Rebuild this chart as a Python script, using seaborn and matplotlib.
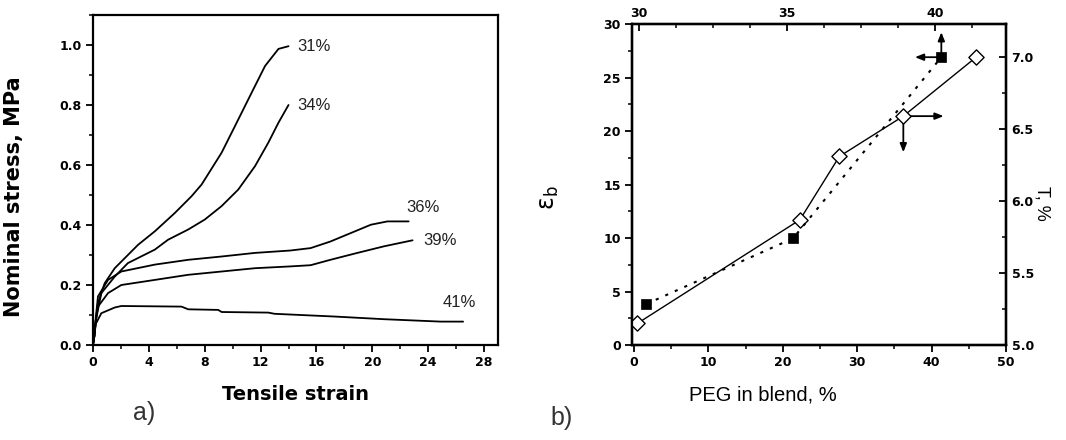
import matplotlib
matplotlib.use("Agg")
import matplotlib.pyplot as plt
import seaborn as sns
from matplotlib.ticker import MultipleLocator
from matplotlib.transforms import offset_copy

# ---------------- data: panel a) ----------------
strain_31 = [0, 0.1, 0.2, 0.36, 0.84, 1.56, 3.23, 4.43, 5.86, 7.06, 7.78, 9.21, 10.17, 11.37, 12.32, 13.28, 14.0]
stress_31 = [0, 0.03, 0.08, 0.14, 0.206, 0.256, 0.334, 0.379, 0.44, 0.496, 0.535, 0.641, 0.73, 0.842, 0.93, 0.987, 0.996]

strain_34 = [0, 0.1, 0.2, 0.6, 1.56, 2.5, 4.43, 5.38, 6.82, 8.0, 9.21, 10.4, 11.6, 12.56, 13.28, 14.0]
stress_34 = [0, 0.03, 0.08, 0.173, 0.228, 0.273, 0.318, 0.351, 0.385, 0.418, 0.463, 0.518, 0.596, 0.675, 0.741, 0.80]

strain_36 = [0, 0.1, 0.2, 0.36, 1.08, 2.03, 4.43, 6.82, 9.21, 11.6, 14.14, 15.58, 17.0, 18.45, 19.9, 21.08, 22.6]
stress_36 = [0, 0.03, 0.09, 0.162, 0.217, 0.245, 0.268, 0.284, 0.295, 0.307, 0.315, 0.323, 0.345, 0.373, 0.401, 0.412, 0.412]

strain_39 = [0, 0.1, 0.2, 0.36, 1.08, 2.03, 4.43, 6.82, 9.21, 11.6, 14.14, 15.58, 17.0, 18.93, 20.84, 22.88]
stress_39 = [0, 0.03, 0.08, 0.128, 0.173, 0.20, 0.217, 0.234, 0.245, 0.256, 0.262, 0.266, 0.284, 0.307, 0.329, 0.349]

strain_41 = [0, 0.1, 0.2, 0.6, 1.56, 2.03, 6.34, 6.82, 8.97, 9.21, 12.56, 13.0, 17.25, 20.84, 24.9, 26.5]
stress_41 = [0, 0.03, 0.07, 0.106, 0.125, 0.13, 0.128, 0.119, 0.117, 0.11, 0.108, 0.104, 0.095, 0.086, 0.078, 0.078]

curve_labels = ["31%", "34%", "36%", "39%", "41%"]
stress_ticks = [0.0, 0.2, 0.4, 0.6, 0.8, 1.0]

# ---------------- data: panel b) ----------------
peg_bottom = [0.45, 22.3, 27.6, 36.2, 46.0]      # open diamonds, bottom x
right_vals = [5.15, 5.87, 6.31, 6.59, 7.0]       # open diamonds, right y
peg_top = [30.26, 35.21, 40.21]                  # filled squares, top x
eps_b = [3.83, 9.97, 26.9]                       # filled squares, left y
right_ticks = [5.0, 5.5, 6.0, 6.5, 7.0]

sns.set_style("white")
plt.rcParams['font.family'] = ['DejaVu Sans']
plt.rcParams['text.color'] = 'black'
plt.rcParams['axes.labelcolor'] = 'black'
plt.rcParams['xtick.color'] = 'black'
plt.rcParams['ytick.color'] = 'black'

fig = plt.figure(figsize=(10.66, 4.4), dpi=100)


def style_spines(a):
    for s in a.spines.values():
        s.set_linewidth(1.6)
        s.set_color("black")


# ================= panel a =================
ax = fig.add_axes([0.0872, 0.2159, 0.38, 0.75])
curves = [(strain_31, stress_31), (strain_34, stress_34), (strain_36, stress_36),
          (strain_39, stress_39), (strain_41, stress_41)]
label_offsets = [(6, 0), (6, 0), (-2, 10), (8, 0), (-15, 14)]
for (xs, ys), lab, off in zip(curves, curve_labels, label_offsets):
    sns.lineplot(x=xs, y=ys, ax=ax, color="black", linewidth=1.3, sort=False)
    ax.annotate(lab, xy=(xs[-1], ys[-1]), xytext=off, textcoords="offset points",
                ha="left", va="center", fontsize=12, family="Liberation Sans", color="#222222")

ax.set_xlim(0, 29)
ax.set_ylim(0, 1.1)
ax.xaxis.set_major_locator(MultipleLocator(4))
ax.xaxis.set_minor_locator(MultipleLocator(2))
ax.set_yticks(stress_ticks)
ax.set_yticklabels([f"{v:.1f}" for v in stress_ticks])
ax.yaxis.set_minor_locator(MultipleLocator(0.1))
ax.tick_params(which="major", direction="out", length=5, width=1.3, labelsize=9,
               bottom=True, left=True, top=False, right=False, pad=3)
ax.tick_params(which="minor", direction="out", length=3, width=1.1,
               bottom=True, left=True, top=False, right=False)
for t in ax.get_xticklabels() + ax.get_yticklabels():
    t.set_fontweight("bold")
style_spines(ax)
ax.set_xlabel("Tensile strain", fontsize=14, fontweight="bold")
ax.set_ylabel("Nominal stress, MPa", fontsize=15, fontweight="bold")
ax.xaxis.set_label_coords(0.5, -0.12)
ax.yaxis.set_label_coords(-0.17, 0.45)

fig.text(144 / 1066, 1 - 413 / 440, "a)", fontsize=18, family="Liberation Sans",
         ha="center", va="center", color="#333333")

# ================= panel b =================
axb = fig.add_axes([0.5929, 0.2159, 0.3508, 0.7295])
axb.set_xlim(-0.27, 50)
axb.set_ylim(0, 30)
axb.xaxis.set_major_locator(MultipleLocator(10))
axb.xaxis.set_minor_locator(MultipleLocator(5))
axb.yaxis.set_major_locator(MultipleLocator(5))
axb.yaxis.set_minor_locator(MultipleLocator(2.5))
axb.tick_params(which="major", direction="out", length=5, width=1.3, labelsize=9,
                bottom=True, left=True, top=False, right=False, pad=3)
axb.tick_params(which="minor", direction="out", length=3, width=1.1,
                bottom=True, left=True, top=False, right=False)
for t in axb.get_xticklabels() + axb.get_yticklabels():
    t.set_fontweight("bold")
style_spines(axb)
axb.set_xlabel("PEG in blend, %", fontsize=14.5, family="Liberation Sans")
axb.xaxis.set_label_coords(0.35, -0.125)
axb.set_ylabel("ε$_{\\mathrm{b}}$", fontsize=17, rotation=90)
axb.yaxis.set_label_coords(-0.19, 0.46)

# right axis (diamonds: bottom x, right y)
axR = axb.twinx()
axR.set_ylim(5.0, 7.23)
axR.set_yticks(right_ticks)
axR.set_yticklabels([f"{v:.1f}" for v in right_ticks])
axR.yaxis.set_minor_locator(MultipleLocator(0.25))
axR.tick_params(which="major", direction="in", length=5, width=1.3, labelsize=9, pad=4)
axR.tick_params(which="minor", direction="in", length=3, width=1.1)
for t in axR.get_yticklabels():
    t.set_fontweight("bold")
axR.set_ylabel("T, %", fontsize=13, family="Liberation Sans", rotation=-90)
axR.yaxis.set_label_coords(1.12, 0.44)
sns.lineplot(x=peg_bottom, y=right_vals, ax=axR, color="black", linewidth=1.0, sort=False)
sns.scatterplot(x=peg_bottom, y=right_vals, ax=axR, marker="D", s=60,
                facecolor="white", edgecolor="black", linewidth=1.0, zorder=5)

# top axis (squares: top x, left y)
axT = axb.twiny()
axT.set_xlim(29.78, 42.39)
axT.set_ylim(0, 30)
axT.xaxis.set_major_locator(MultipleLocator(5))
axT.xaxis.set_minor_locator(MultipleLocator(1.25))
axT.tick_params(which="major", direction="in", length=5, width=1.3, labelsize=9, pad=3)
axT.tick_params(which="minor", direction="in", length=3, width=1.1)
for t in axT.get_xticklabels():
    t.set_fontweight("bold")
sns.lineplot(x=peg_top, y=eps_b, ax=axT, color="black", linewidth=1.5,
             linestyle=(0, (1.5, 3.5)), sort=False)
sns.scatterplot(x=peg_top, y=eps_b, ax=axT, marker="s", s=55,
                color="black", edgecolor="black", linewidth=0.5, zorder=5)

for a in (axR, axT):
    style_spines(a)

arrow_kw = dict(arrowstyle="-|>,head_length=0.5,head_width=0.2", color="black", lw=1.3,
                shrinkA=0, shrinkB=0)


def arrow_from(axis, x, y, dx_pt, dy_pt):
    tip_tr = offset_copy(axis.transData, fig=fig, x=dx_pt, y=dy_pt, units="points")
    tip_data = axis.transData.inverted().transform(tip_tr.transform((x, y)))
    axis.annotate("", xy=tuple(tip_data), xycoords="data", xytext=(x, y), textcoords="data",
                  arrowprops=arrow_kw, annotation_clip=False)


fig.canvas.draw()
# square series -> left & top axes
arrow_from(axT, peg_top[-1], eps_b[-1], -19, 0)
arrow_from(axT, peg_top[-1], eps_b[-1], 0, 18)
# diamond series -> right & bottom axes
arrow_from(axR, peg_bottom[3], right_vals[3], 29, 0)
arrow_from(axR, peg_bottom[3], right_vals[3], 0, -26)

fig.text(562 / 1066, 1 - 418 / 440, "b)", fontsize=18, family="Liberation Sans",
         ha="center", va="center", color="#333333")

fig.savefig("out.png", dpi=100)
